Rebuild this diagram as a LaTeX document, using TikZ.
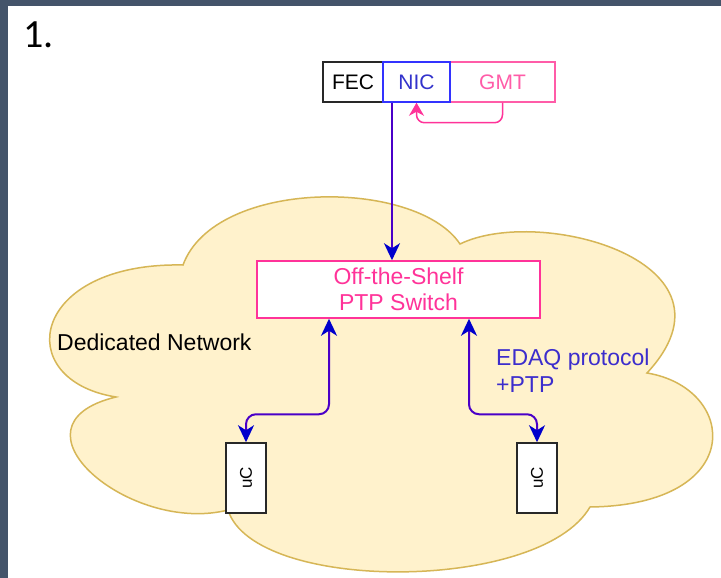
\documentclass[tikz,border=0pt]{standalone}
\usepackage{fontspec}
\setmainfont{Liberation Sans}
\newfontfamily\numfont{Carlito}
\usetikzlibrary{arrows.meta,calc}
\definecolor{frame}{HTML}{44546A}
\definecolor{cloudfill}{HTML}{FFF2CC}
\definecolor{cloudline}{HTML}{D6B656}
\definecolor{swpink}{HTML}{FF3399}
\definecolor{gmtpink}{HTML}{FF5CA8}
\definecolor{nicblue}{HTML}{3333FF}
\definecolor{nictext}{HTML}{3333CC}
\definecolor{linkblue}{HTML}{4A00C8}
\definecolor{tipblue}{HTML}{0000CC}
\definecolor{edaqblue}{HTML}{3C2DCC}
\tikzset{
  boxfec/.style={draw={rgb,255:red,40;green,40;blue,40},line width=1.5pt,fill=white,minimum width=60pt,minimum height=40pt,inner sep=0pt,font=\fontsize{21}{24}\selectfont},
  boxnic/.style={draw=nicblue,line width=1.5pt,minimum width=67pt,minimum height=40pt,inner sep=0pt,text=nictext,font=\fontsize{21}{24}\selectfont},
  boxgmt/.style={draw=gmtpink,line width=1.5pt,fill=white,minimum width=105pt,minimum height=40pt,inner sep=0pt,text=gmtpink,font=\fontsize{21}{24}\selectfont},
  swbox/.style={draw=swpink,line width=1.5pt,fill=white,minimum width=283pt,minimum height=57pt,inner sep=0pt,align=center,text=swpink,font=\fontsize{23}{26}\selectfont},
  ucbox/.style={draw={rgb,255:red,40;green,40;blue,40},line width=1.5pt,fill=white,minimum width=40pt,minimum height=70pt,inner sep=0pt},
  bluetip/.style={},
  link/.style={draw=linkblue,line width=2pt,-{Stealth[length=17pt,width=16pt,inset=5pt,fill=tipblue,color=tipblue]}},
  dlink/.style={draw=linkblue,line width=2pt,rounded corners=10pt,{Stealth[length=17pt,width=16pt,inset=5pt,fill=tipblue,color=tipblue]}-{Stealth[length=17pt,width=16pt,inset=5pt,fill=tipblue,color=tipblue]}},
  loop/.style={draw=swpink,line width=1.5pt,rounded corners=8pt,-{Stealth[length=13pt,width=15pt,inset=4pt]}},
  lbl/.style={inner sep=0pt,font=\fontsize{23}{27}\selectfont}
}
\begin{document}
\begin{tikzpicture}[x=1pt,y=-1pt]
\useasboundingbox (0,0) rectangle (721,578);
\fill[frame] (0,0) rectangle (721,578);
\fill[white] (8,6) rectangle (721,578);
% cloud
\draw[cloudline,fill=cloudfill,line width=1.5pt]
  (183,265) .. controls (215,178) and (416,178) .. (460,244)
  .. controls (540,205) and (750,262) .. (647,373)
  .. controls (738,388) and (748,505) .. (590,507)
  .. controls (540,593) and (254,593) .. (228,510)
  .. controls (130,535) and (0,425) .. (116,397)
  .. controls (10,380) and (30,262) .. (183,265) -- cycle;
\node[anchor=base west,inner sep=0pt,font=\numfont\fontsize{40}{48}\selectfont] (num) at (23,48) {1.};
% top boxes
\node[boxfec] (fec) at (353,82) {FEC};
\node[boxgmt] (gmt) at (502.5,82) {GMT};
\node[boxnic] (nic) at (416.5,82) {NIC};
% switch and uCs
\node[swbox] (sw) at (398.5,289.5) {Off-the-Shelf\\PTP Switch};
\node[ucbox] (uc1) at (246,478) {};
\node[ucbox] (uc2) at (537,478) {};
\node[rotate=90,inner sep=0pt,font=\fontsize{17}{20}\selectfont] (uct1) at (uc1) {uC};
\node[rotate=90,inner sep=0pt,font=\fontsize{17}{20}\selectfont] (uct2) at (uc2) {uC};
% labels
\node[lbl,anchor=base west] (dn) at (57,350) {Dedicated Network};
\node[lbl,anchor=north west,align=left,text=edaqblue] (edaq) at (496,349) {EDAQ protocol\\+PTP};
% connectors
\draw[loop] (gmt.south) -- ++(0,20) -| (nic.south);
\draw[link] ([xshift=-24.5pt]nic.south) -- ([xshift=-24.5pt]nic.south |- sw.north);
\draw[dlink] ([xshift=-69.5pt]sw.south) |- ([yshift=28pt]uc1.north) -- (uc1.north);
\draw[dlink] ([xshift=70.5pt]sw.south) |- ([yshift=28pt]uc2.north) -- (uc2.north);
\end{tikzpicture}
\end{document}
